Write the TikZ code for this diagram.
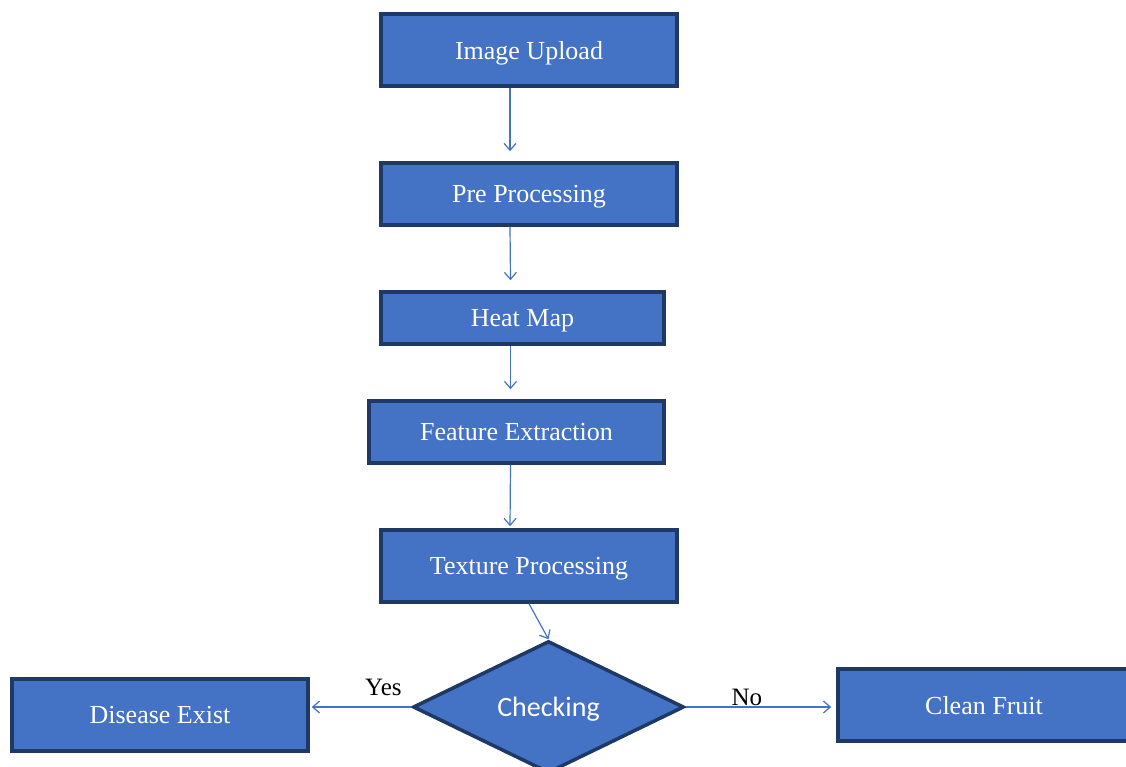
\documentclass[tikz,border=0pt]{standalone}
\usepackage{fontspec}
\setmainfont{Liberation Serif}
\newfontfamily\calib{Carlito}
\usetikzlibrary{shapes.geometric,arrows.meta,calc}
\definecolor{boxfill}{HTML}{4472C4}
\definecolor{boxline}{HTML}{1F3864}
\definecolor{arrcol}{HTML}{4472C4}
\begin{document}
\begin{tikzpicture}[x=1pt,y=-1pt,
  stepbox/.style={rectangle,fill=boxfill,draw=boxline,line width=3.5pt,inner sep=0pt,
    text=white,text depth=0pt,font=\fontsize{26}{30}\selectfont},
  decide/.style={diamond,fill=boxfill,draw=boxline,line width=3.5pt,inner sep=0pt,aspect=2.05,
    text=white,text depth=0pt,font=\calib\fontsize{28}{32}\selectfont},
  arr/.style={draw=arrcol,line width=1.2pt,-{Straight Barb[length=7pt,width=12pt]}},
  lbl/.style={text=black,font=\fontsize{25}{28}\selectfont,inner sep=0pt}]
\useasboundingbox (0,0) rectangle (1126,767);
\node[stepbox,minimum width=296pt,minimum height=72pt] (iu) at (529,50) {Image Upload};
\node[stepbox,minimum width=296pt,minimum height=62pt] (pp) at (529,194) {Pre Processing};
\node[stepbox,minimum width=283pt,minimum height=52pt] (hm) at (522.5,318) {Heat Map};
\node[stepbox,minimum width=295pt,minimum height=62pt] (fe) at (516.5,432) {Feature Extraction};
\node[stepbox,minimum width=296pt,minimum height=72pt] (tp) at (529,566) {Texture Processing};
\node[decide,minimum width=271pt,minimum height=132pt] (ck) at (548.5,707) {Checking};
\node[stepbox,minimum width=296pt,minimum height=72pt] (de) at (160,715) {Disease Exist};
\node[stepbox,minimum width=292pt,minimum height=72pt] (cf) at (984,705) {Clean Fruit};
\draw[arr] ([xshift=-19pt]iu.south) -- ([xshift=-19pt,yshift=10pt]pp.north);
\draw[arr] ([xshift=-19pt]pp.south) -- ([xshift=-12pt,yshift=10pt]hm.north);
\draw[arr] ([xshift=-12pt]hm.south) -- ([xshift=-6pt,yshift=10pt]fe.north);
\draw[arr] ([xshift=-6pt]fe.south) -- ([xshift=-19pt,yshift=2pt]tp.north);
\draw[arr] (tp.south) -- (ck.north);
\draw[arr] (ck.west) -- node[lbl,pos=0.28,above=11pt] {Yes} ([xshift=2pt]ck.west -| de.east);
\draw[arr] (ck.east) -- node[lbl,pos=0.42,anchor=base,yshift=2pt] {No} ([xshift=-5pt]ck.east -| cf.west);
\end{tikzpicture}
\end{document}
